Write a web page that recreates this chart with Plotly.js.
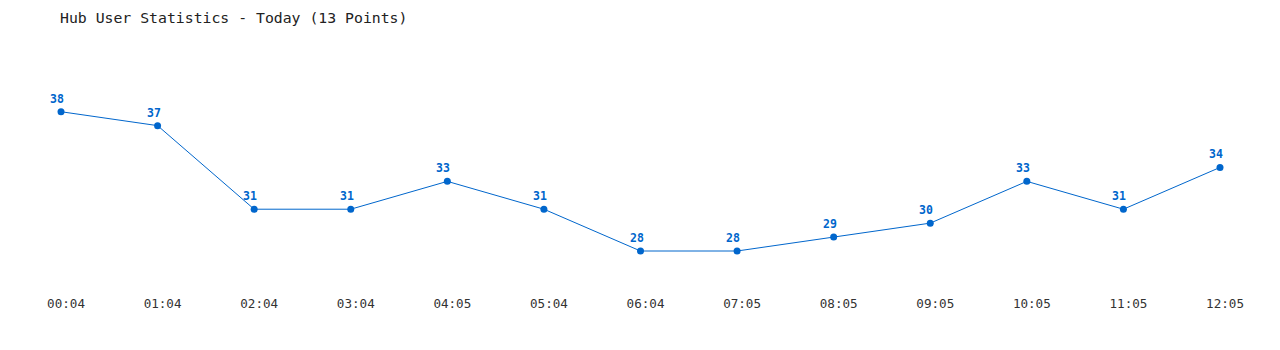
<!DOCTYPE html>
<html>
<head>
<meta charset="utf-8">
<script src="https://cdn.plot.ly/plotly-3.0.1.min.js"></script>
<style>html,body{margin:0;padding:0;background:#fff;}#chart{width:1280px;height:350px;}</style>
</head>
<body>
<div id="chart"></div>
<script>
const times = ["00:04","01:04","02:04","03:04","04:05","05:04","06:04","07:05","08:05","09:05","10:05","11:05","12:05"];
const users = [38,37,31,31,33,31,28,28,29,30,33,31,34];
const titleText = "Hub User Statistics - Today (13 Points)";

const trace = {
  x: times,
  y: users,
  type: 'scatter',
  mode: 'lines+markers',
  line: {color: '#0066cc', width: 1},
  marker: {color: '#0066cc', size: 7},
  cliponaxis: false,
  hoverinfo: 'x+y'
};

const labelAnnotations = times.map((t, i) => ({
  x: t, y: users[i], xref: 'x', yref: 'y',
  text: String(users[i]), showarrow: false,
  xshift: -4, yshift: 13, yanchor: 'middle', xanchor: 'center',
  font: {family: 'DejaVu Sans Mono', size: 11.5, color: '#0066cc', weight: 'bold'}
}));

const layout = {
  width: 1280, height: 350,
  paper_bgcolor: '#fff', plot_bgcolor: '#fff',
  margin: {l: 61, r: 60, t: 56, b: 60},
  showlegend: false,
  annotations: labelAnnotations,
  title: {
    text: titleText,
    font: {family: 'DejaVu Sans Mono', size: 14.8, color: '#222'},
    xref: 'container', x: 60/1280, xanchor: 'left',
    yref: 'container', y: 1 - 18/350, yanchor: 'middle'
  },
  xaxis: {
    type: 'category', range: [0, 12],
    showgrid: false, zeroline: false, showline: false, ticks: '',
    ticklabelshift: 5, ticklabelstandoff: 4,
    tickfont: {family: 'DejaVu Sans Mono', size: 12.6, color: '#333'}
  },
  yaxis: {
    range: [25.2, 42],
    showgrid: false, zeroline: false, showline: false, showticklabels: false, ticks: ''
  }
};

Plotly.newPlot('chart', [trace], layout, {displayModeBar: false, staticPlot: true});
</script>
</body>
</html>
